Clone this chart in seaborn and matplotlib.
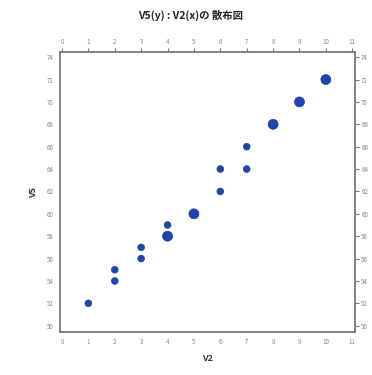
import matplotlib
matplotlib.use("Agg")
import matplotlib.pyplot as plt
import seaborn as sns
import pandas as pd

# observations of V2 and V5; n = number of identical observations at the point
v2 = [1, 2, 2, 3, 3, 4, 4, 5, 6, 6, 7, 7, 8, 9, 10]
v5 = [52, 54, 55, 56, 57, 58, 59, 60, 62, 64, 64, 66, 68, 70, 72]
n = [1, 1, 1, 1, 1, 2, 1, 2, 1, 1, 1, 1, 2, 2, 2]

x_ticks = list(range(0, 12))
y_ticks = list(range(50, 76, 2))

df = pd.DataFrame({"V2": v2, "V5": v5, "n": n})

sns.set_style("white")
plt.rcParams["font.family"] = ["Noto Sans CJK JP", "DejaVu Sans"]

fig = plt.figure(figsize=(3.72, 3.75), dpi=100)
ax = fig.add_axes([0.161, 0.115, 0.793, 0.746])

sns.scatterplot(data=df, x="V2", y="V5", size="n", sizes={1: 24, 2: 52},
                color="#1c46b4", edgecolor="#16337f", linewidth=0.4,
                legend=False, ax=ax, zorder=3)

ax.set_xlim(-0.08, 11.1)
ax.set_ylim(49.45, 74.45)
ax.set_xticks(x_ticks)
ax.set_yticks(y_ticks)

ax.tick_params(axis="both", which="both", direction="out", length=3, width=0.8,
               color="#777777", labelsize=4.5, labelcolor="#888888",
               top=True, right=True, labeltop=True, labelright=True, pad=1.5)

for s in ax.spines.values():
    s.set_color("#777777")
    s.set_linewidth(1.3)

ax.set_xlabel("V2", fontsize=6.5, fontweight="bold", color="#333333", labelpad=6)
ax.set_ylabel("V5", fontsize=6.5, fontweight="bold", color="#333333", labelpad=6)

fig.text(0.512, 0.958, "V5(y) : V2(x)の 散布図", ha="center", va="center",
         fontsize=7.5, fontweight="bold", color="#222222")

fig.savefig("out.png", dpi=100)
